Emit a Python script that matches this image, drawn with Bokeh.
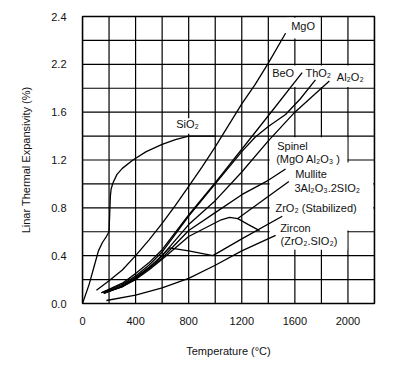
from bokeh.plotting import figure
from bokeh.models import FixedTicker, Range1d, Label
from bokeh.embed import file_html
from bokeh.resources import INLINE

# ---------------- data ----------------
temp_ticks = [0, 400, 800, 1200, 1600, 2000]
exp_ticks = [0.0, 0.4, 0.8, 1.2, 1.6, 2.0, 2.4]
exp_tick_labels = ["0.0", "0.4", "0.8", "1.2", "1.6", "2.2", "2.4"]
grid_temp = [0, 200, 400, 600, 800, 1000, 1200, 1400, 1600, 1800, 2000, 2200]
grid_exp = [0.0, 0.2, 0.4, 0.6, 0.8, 1.0, 1.2, 1.4, 1.6, 1.8, 2.0, 2.2, 2.4]

sio2_t = [0, 50, 90, 120, 150, 180, 200, 205, 210, 216, 230, 260, 300, 380, 480, 600, 700, 800, 1000]
sio2_e = [0, 0.16, 0.32, 0.44, 0.51, 0.56, 0.60, 0.75, 0.90, 0.96, 1.01, 1.08, 1.13, 1.20, 1.27, 1.33, 1.37, 1.40, 1.40]

mgo_t = [105, 200, 300, 400, 500, 600, 700, 800, 900, 1000, 1100, 1200, 1300, 1400, 1530]
mgo_e = [0.11, 0.19, 0.28, 0.40, 0.53, 0.67, 0.82, 0.98, 1.14, 1.31, 1.49, 1.67, 1.83, 2.01, 2.26]

beo_t = [142, 300, 400, 500, 600, 800, 1000, 1200, 1400, 1655]
beo_e = [0.09, 0.17, 0.25, 0.34, 0.45, 0.74, 1.01, 1.29, 1.57, 1.93]

tho2_t = [142, 300, 400, 500, 600, 800, 1000, 1200, 1300, 1400, 1530, 1640, 1755]
tho2_e = [0.09, 0.16, 0.23, 0.32, 0.43, 0.73, 1.00, 1.27, 1.39, 1.48, 1.58, 1.71, 1.87]

al2o2_t = [160, 300, 400, 500, 600, 800, 1000, 1200, 1400, 1600, 1860]
al2o2_e = [0.09, 0.15, 0.22, 0.30, 0.40, 0.66, 0.86, 1.10, 1.36, 1.60, 1.86]

spinel_t = [160, 300, 400, 500, 600, 800, 1000, 1200, 1400, 1530]
spinel_e = [0.09, 0.14, 0.21, 0.29, 0.38, 0.61, 0.76, 0.91, 1.03, 1.125]

bump_t = [160, 300, 400, 500, 600, 800, 1045, 1108, 1170, 1250, 1334]
bump_e = [0.085, 0.14, 0.20, 0.28, 0.37, 0.56, 0.70, 0.72, 0.71, 0.66, 0.61]

mullite_t = [1170, 1555]
mullite_e = [0.71, 1.02]

zro2_t = [160, 300, 400, 500, 560, 655, 800, 982, 1200, 1505]
zro2_e = [0.085, 0.145, 0.21, 0.30, 0.36, 0.465, 0.44, 0.40, 0.54, 0.73]

zircon_t = [180, 400, 600, 800, 1000, 1200, 1455]
zircon_e = [0.025, 0.07, 0.13, 0.21, 0.32, 0.44, 0.57]

FONT = "Liberation Sans"
T_MIN, T_MAX = 0, 2200
E_MIN, E_MAX = 0.0, 2.4

p = figure(width=397, height=365, output_backend="svg", toolbar_location=None,
           x_range=Range1d(T_MIN, T_MAX), y_range=Range1d(E_MIN, E_MAX),
           min_border_left=82, min_border_right=23, min_border_top=16, min_border_bottom=62)
p.background_fill_color = "white"
p.border_fill_color = "white"
p.outline_line_color = "black"
p.outline_line_width = 1.5
p.xgrid.visible = False
p.ygrid.visible = False

p.xaxis.ticker = FixedTicker(ticks=temp_ticks)
p.yaxis.ticker = FixedTicker(ticks=exp_ticks)
p.yaxis.major_label_overrides = {v: s for v, s in zip(exp_ticks, exp_tick_labels)}
for ax in (p.xaxis, p.yaxis):
    ax.axis_line_color = None
    ax.major_tick_line_color = None
    ax.minor_tick_line_color = None
    ax.major_label_text_font = FONT
    ax.major_label_text_font_size = "11px"
    ax.major_label_text_color = "#111111"
    ax.axis_label_text_font = FONT
    ax.axis_label_text_font_size = "11px"
    ax.axis_label_text_font_style = "normal"
    ax.axis_label_text_color = "#111111"
p.xaxis.axis_label = "Temperature (°C)"
p.yaxis.axis_label = "Linar Thermal Expansivity (%)"
p.xaxis.major_label_standoff = 7
p.xaxis.axis_label_standoff = 17
p.yaxis.major_label_standoff = 10
p.yaxis.axis_label_standoff = 16

# grid drawn as glyphs so that the label boxes can mask it
p.segment(x0=grid_temp, y0=[E_MIN] * len(grid_temp), x1=grid_temp, y1=[E_MAX] * len(grid_temp),
          line_color="black", line_width=1.2)
p.segment(x0=[T_MIN] * len(grid_exp), y0=grid_exp, x1=[T_MAX] * len(grid_exp), y1=grid_exp,
          line_color="black", line_width=1.2)

# white boxes that mask the grid behind the labels
boxes_left = [1540, 1410, 700, 1410, 1990]
boxes_right = [1780, 2190, 890, 1995, 2190]
boxes_bottom = [2.215, 1.81, 1.42, 0.45, 0.61]
boxes_top = [2.39, 1.99, 1.55, 1.39, 1.18]
p.quad(left=boxes_left, right=boxes_right, bottom=boxes_bottom, top=boxes_top,
       fill_color="white", line_color=None)

for t, e in [(sio2_t, sio2_e), (mgo_t, mgo_e), (beo_t, beo_e), (tho2_t, tho2_e),
             (al2o2_t, al2o2_e), (spinel_t, spinel_e), (bump_t, bump_e),
             (mullite_t, mullite_e), (zro2_t, zro2_e), (zircon_t, zircon_e)]:
    p.line(t, e, line_color="black", line_width=1.3)

labels = [
    ("MgO", 1572, 2.32),
    ("BeO", 1429, 1.93),
    ("ThO₂", 1680, 1.93),
    ("Al₂O₂", 1916, 1.895),
    ("SiO₂", 706, 1.50),
    ("Spinel", 1467, 1.32),
    ("(MgO Al₂O₃ )", 1459, 1.21),
    ("Mullite", 1602, 1.087),
    ("3Al₂O₃.2SIO₂", 1597, 0.967),
    ("ZrO₂ (Stabilized)", 1454, 0.80),
    ("Zircon", 1489, 0.633),
    ("(ZrO₂.SIO₂)", 1492, 0.52),
]
for txt, x, y in labels:
    p.add_layout(Label(x=x, y=y, text=txt, text_font=FONT, text_font_size="11px",
                       text_baseline="middle", text_align="left", text_color="#111111"))

open("out.html", "w").write(file_html(p, INLINE))
